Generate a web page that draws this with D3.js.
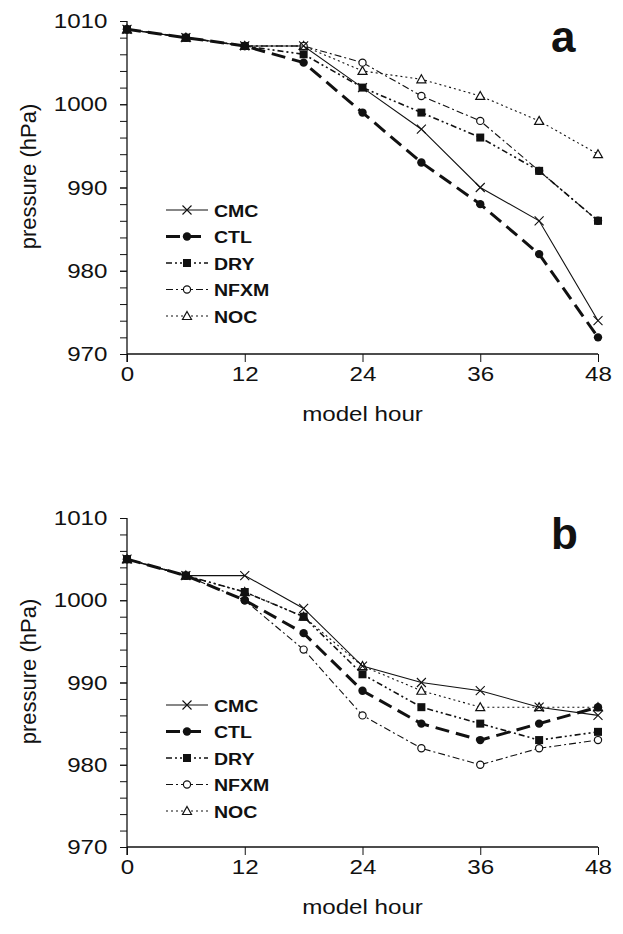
<!DOCTYPE html>
<html>
<head>
<meta charset="utf-8">
<script src="https://cdn.jsdelivr.net/npm/d3@7"></script>
<style>
  body { margin: 0; background: #fff; }
  text { font-family: "Liberation Sans", Arial, sans-serif; fill: #111; }
</style>
</head>
<body>
<div id="chart"></div>
<script>
// model hours shared by both panels
var hours = [0, 6, 12, 18, 24, 30, 36, 42, 48];
var xTicks = [0, 12, 24, 36, 48];
var yTicks = [970, 980, 990, 1000, 1010];

// panel a
var cmcA  = [1009, 1008, 1007, 1007, 1002, 997, 990, 986, 974];
var ctlA  = [1009, 1008, 1007, 1005, 999, 993, 988, 982, 972];
var dryA  = [1009, 1008, 1007, 1006, 1002, 999, 996, 992, 986];
var nfxmA = [1009, 1008, 1007, 1007, 1005, 1001, 998, 992, 986];
var nocA  = [1009, 1008, 1007, 1007, 1004, 1003, 1001, 998, 994];

// panel b
var cmcB  = [1005, 1003, 1003, 999, 992, 990, 989, 987, 986];
var ctlB  = [1005, 1003, 1000, 996, 989, 985, 983, 985, 987];
var dryB  = [1005, 1003, 1001, 998, 991, 987, 985, 983, 984];
var nfxmB = [1005, 1003, 1000, 994, 986, 982, 980, 982, 983];
var nocB  = [1005, 1003, 1001, 998, 992, 989, 987, 987, 987];

var names = ['CMC', 'CTL', 'DRY', 'NFXM', 'NOC'];

// line look per series
var styles = {
  CMC:  {width: 1.1, dash: null,            marker: 'cross'},
  CTL:  {width: 3,   dash: '14 7',          marker: 'dot'},
  DRY:  {width: 1.6, dash: '6 3 2 3 2 3',   marker: 'square'},
  NFXM: {width: 1.1, dash: '7 3 2 3',       marker: 'ring'},
  NOC:  {width: 1.1, dash: '2 3',           marker: 'tri'}
};

var width = 623, height = 934;
var left = 127, plotW = 471;

var svg = d3.select('#chart').append('svg')
  .attr('width', width)
  .attr('height', height);

function drawMarker(g, kind, x, y) {
  if (kind === 'cross') {
    g.append('path')
      .attr('d', 'M' + (x - 4.5) + ',' + (y - 4.5) + 'L' + (x + 4.5) + ',' + (y + 4.5) +
                 'M' + (x - 4.5) + ',' + (y + 4.5) + 'L' + (x + 4.5) + ',' + (y - 4.5))
      .attr('stroke', '#111').attr('stroke-width', 1.1).attr('fill', 'none');
  } else if (kind === 'dot') {
    g.append('circle').attr('cx', x).attr('cy', y).attr('r', 4.2).attr('fill', '#111');
  } else if (kind === 'square') {
    g.append('rect').attr('x', x - 4).attr('y', y - 4).attr('width', 8).attr('height', 8).attr('fill', '#111');
  } else if (kind === 'ring') {
    g.append('circle').attr('cx', x).attr('cy', y).attr('r', 3.6)
      .attr('fill', '#fff').attr('stroke', '#111').attr('stroke-width', 1.2);
  } else {
    g.append('path')
      .attr('d', 'M' + x + ',' + (y - 4.5) + 'L' + (x + 4.5) + ',' + (y + 3.5) + 'L' + (x - 4.5) + ',' + (y + 3.5) + 'Z')
      .attr('fill', '#fff').attr('stroke', '#111').attr('stroke-width', 1.2);
  }
}

function drawPanel(top, plotH, series, letter, legendTop) {
  var x = d3.scaleLinear().domain([0, 48]).range([left, left + plotW]);
  var y = d3.scaleLinear().domain([970, 1010]).range([top + plotH, top]);

  var panel = svg.append('g');

  // y axis: minor ticks every 2 hPa, labels every 10
  panel.append('g')
    .attr('transform', 'translate(' + left + ',0)')
    .call(d3.axisLeft(y).tickValues(d3.range(970, 1011, 2)).tickSize(7).tickFormat(''))
    .call(function(g) { g.select('.domain').remove(); })
    .selectAll('line').attr('stroke', '#111');

  var yAxis = panel.append('g')
    .attr('transform', 'translate(' + left + ',0)')
    .call(d3.axisLeft(y).tickValues(yTicks).tickSize(7).tickPadding(10).tickFormat(d3.format('d')));
  yAxis.select('.domain').remove();
  yAxis.selectAll('line').attr('stroke', '#111');
  yAxis.selectAll('text')
    .attr('font-size', 21)
    .attr('font-family', '"Liberation Sans", Arial, sans-serif')
    .attr('fill', '#111')
    .attr('transform', 'scale(1.15,1)');

  var xAxis = panel.append('g')
    .attr('transform', 'translate(0,' + (top + plotH) + ')')
    .call(d3.axisBottom(x).tickValues(xTicks).tickSize(8).tickPadding(4));
  xAxis.select('.domain').remove();
  xAxis.selectAll('line').attr('stroke', '#111');
  xAxis.selectAll('text')
    .attr('font-size', 21)
    .attr('font-family', '"Liberation Sans", Arial, sans-serif')
    .attr('fill', '#111')
    .attr('transform', 'scale(1.15,1)');

  // axis lines
  panel.append('line')
    .attr('x1', left).attr('x2', left)
    .attr('y1', top).attr('y2', top + plotH + 8)
    .attr('stroke', '#111').attr('stroke-width', 1.3);
  panel.append('line')
    .attr('x1', left).attr('x2', left + plotW)
    .attr('y1', top + plotH).attr('y2', top + plotH)
    .attr('stroke', '#111').attr('stroke-width', 1.3);

  panel.append('text')
    .attr('transform', 'translate(' + (left + plotW / 2) + ',' + (top + plotH + 67) + ') scale(1.15,1)')
    .attr('text-anchor', 'middle')
    .attr('font-size', 21)
    .text('model hour');

  panel.append('text')
    .attr('transform', 'translate(36,' + (top + plotH / 2 - 11) + ') rotate(-90)')
    .attr('text-anchor', 'middle')
    .attr('font-size', 22)
    .text('pressure (hPa)');

  panel.append('text')
    .attr('x', 551).attr('y', top + 31)
    .attr('font-family', '"Liberation Serif", "Times New Roman", serif')
    .attr('font-weight', 'bold')
    .attr('font-size', 44)
    .text(letter);

  var line = d3.line()
    .x(function(d, i) { return x(hours[i]); })
    .y(function(d) { return y(d); });

  // draw in reverse so CMC/CTL sit on top
  names.slice().reverse().forEach(function(name) {
    var s = styles[name];
    var vals = series[name];
    var g = panel.append('g');
    g.append('path')
      .datum(vals)
      .attr('d', line)
      .attr('fill', 'none')
      .attr('stroke', '#111')
      .attr('stroke-width', s.width)
      .attr('stroke-dasharray', s.dash);
    vals.forEach(function(v, i) {
      drawMarker(g, s.marker, x(hours[i]), y(v));
    });
  });

  // legend
  names.forEach(function(name, i) {
    var s = styles[name];
    var ly = legendTop + i * 26.5;
    var g = panel.append('g');
    g.append('line')
      .attr('x1', 166).attr('x2', 208)
      .attr('y1', ly).attr('y2', ly)
      .attr('stroke', '#111')
      .attr('stroke-width', s.width)
      .attr('stroke-dasharray', s.dash);
    drawMarker(g, s.marker, 187, ly);
    g.append('text')
      .attr('transform', 'translate(214,' + (ly + 6.5) + ') scale(1.15,1)')
      .attr('font-weight', 'bold')
      .attr('font-size', 17)
      .text(name);
  });
}

drawPanel(21, 333, {CMC: cmcA, CTL: ctlA, DRY: dryA, NFXM: nfxmA, NOC: nocA}, 'a', 210);
drawPanel(518, 329, {CMC: cmcB, CTL: ctlB, DRY: dryB, NFXM: nfxmB, NOC: nocB}, 'b', 705);
</script>
</body>
</html>
